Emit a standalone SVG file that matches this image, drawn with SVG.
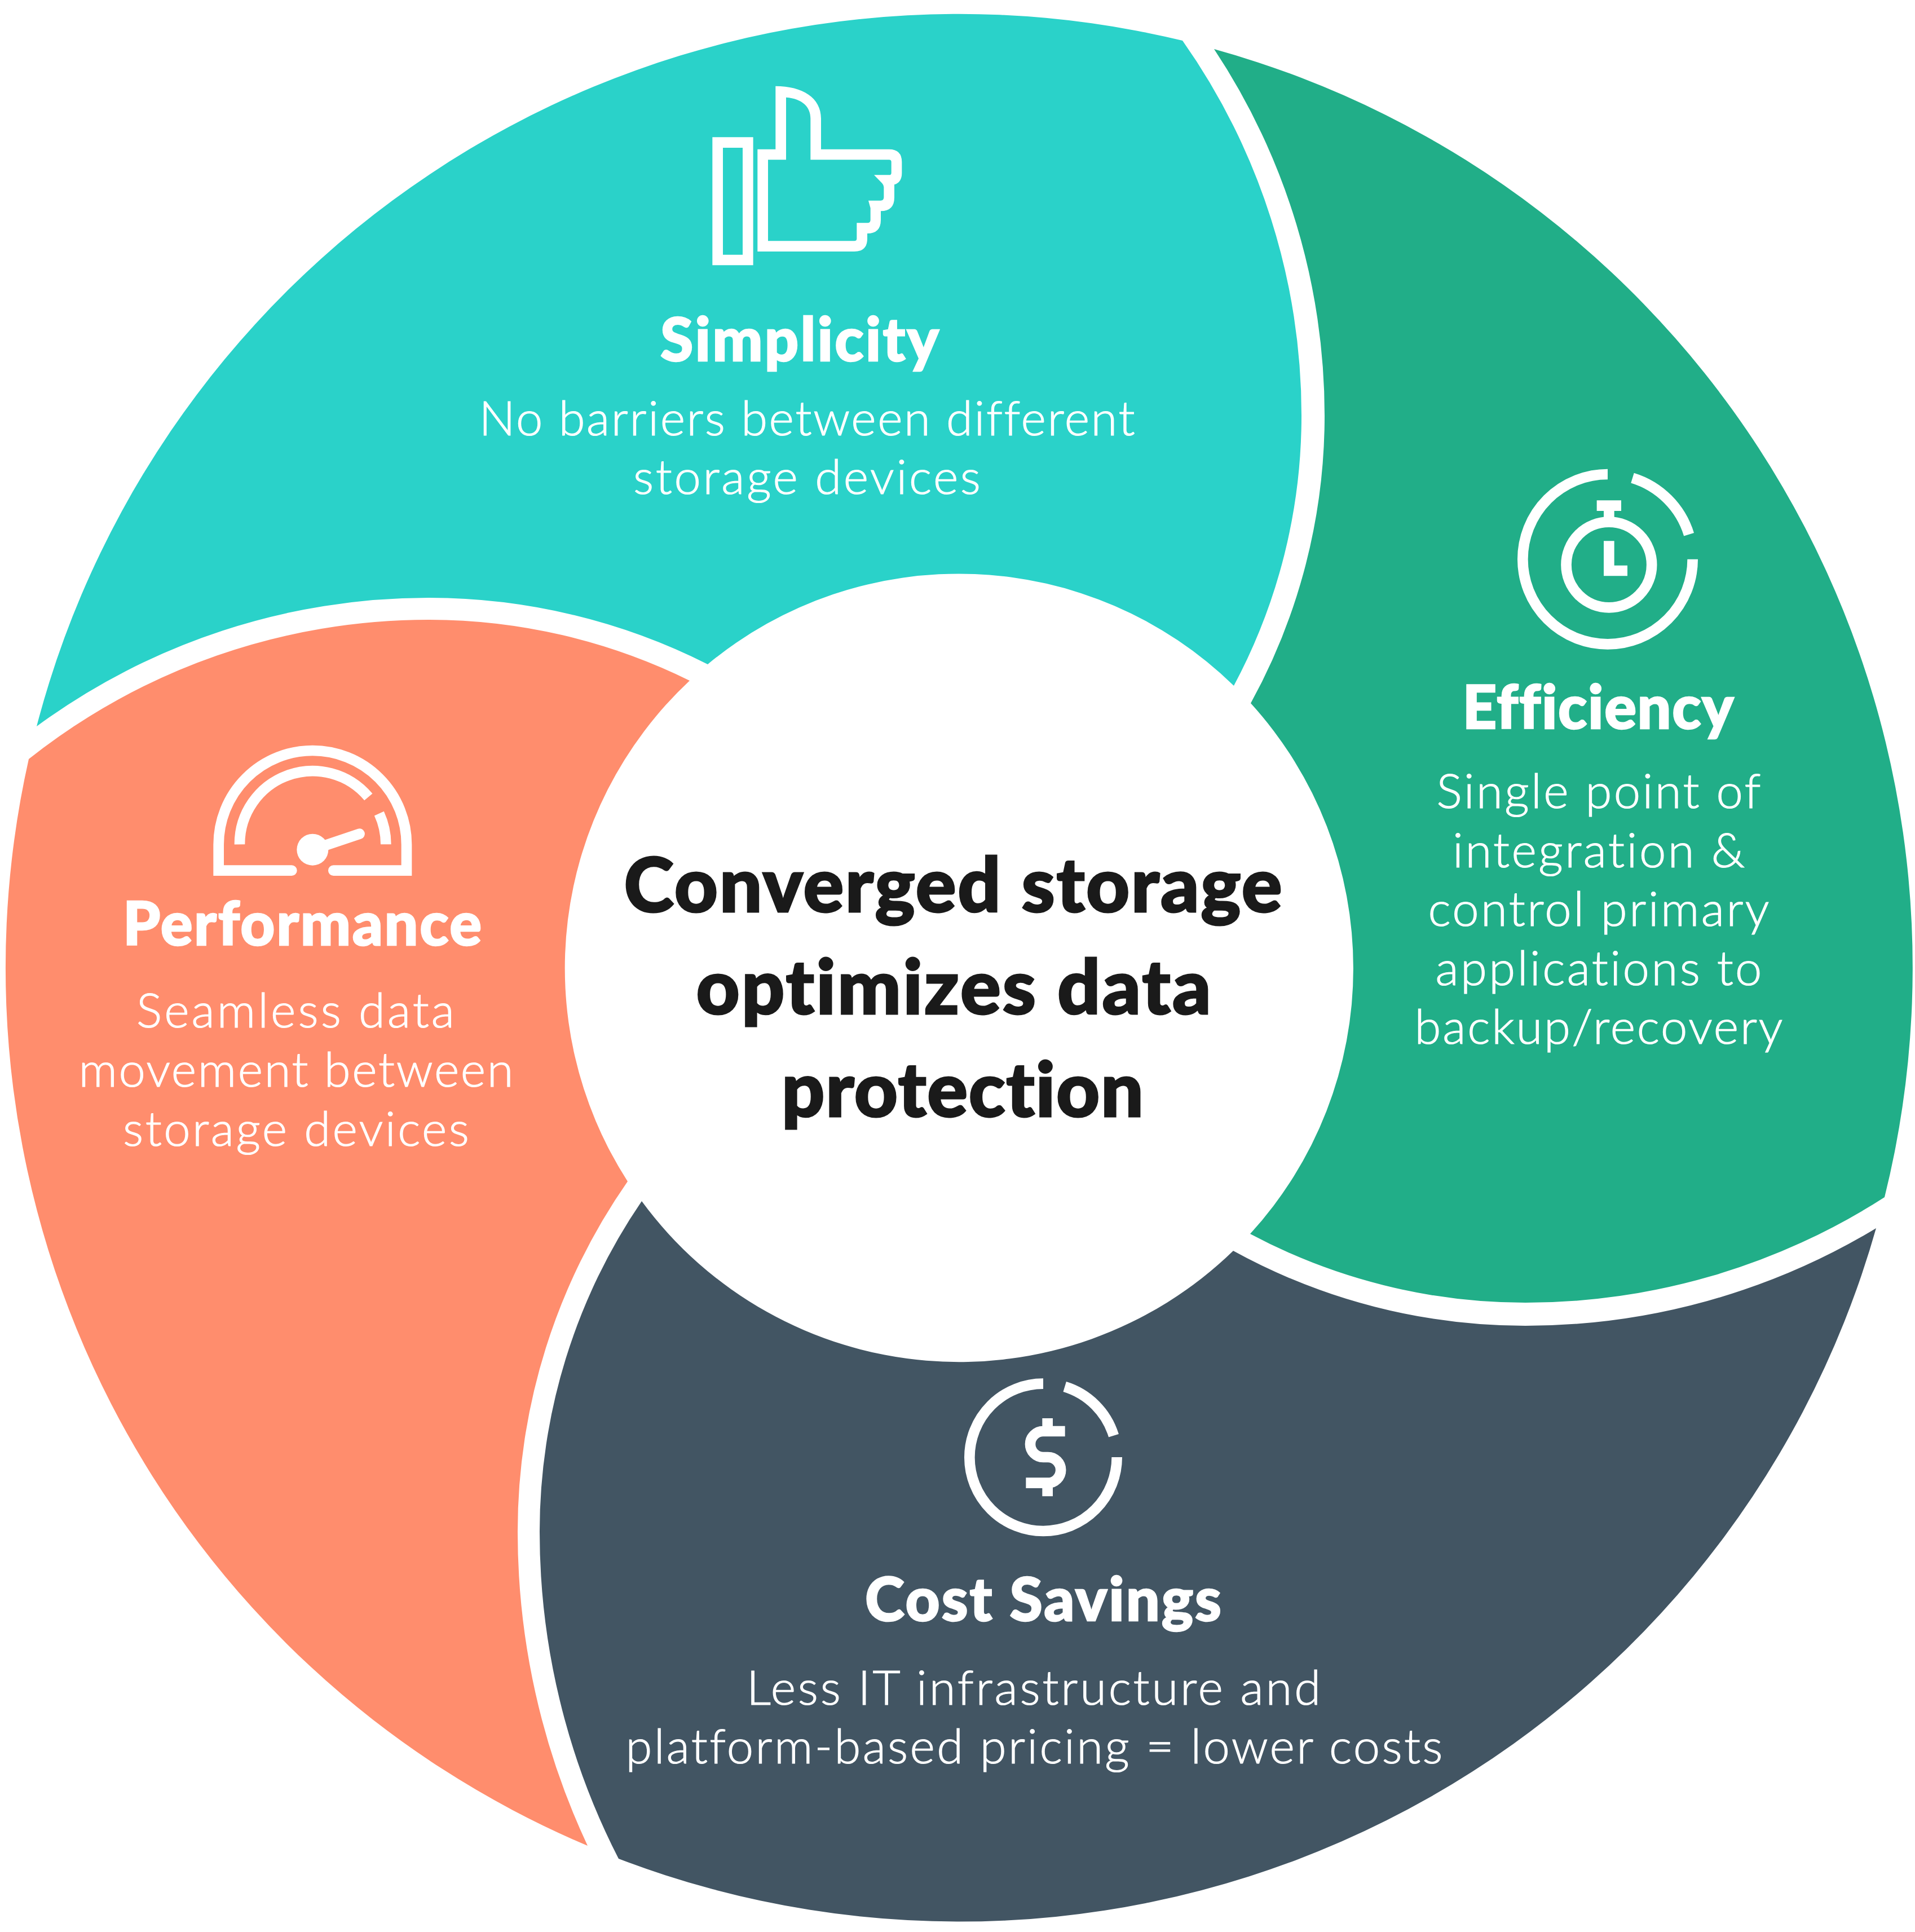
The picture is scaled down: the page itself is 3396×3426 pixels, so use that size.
<svg xmlns="http://www.w3.org/2000/svg" width="3396" height="3426" viewBox="0 0 3396 3426">
<style>
text{text-anchor:middle;fill:#fff;font-family:"Lato","Liberation Sans",sans-serif;font-variant-ligatures:none}
.h{font-weight:900;font-size:106px;stroke:#fff;stroke-width:2.5px}
.b{font-weight:300;font-size:85px;stroke:#fff;stroke-width:1.2px}
.c{font-weight:900;font-size:134px;fill:#1a1a1a;stroke:#1a1a1a;stroke-width:3px}
.s{fill:none;stroke:#fff;stroke-width:56}
.r{stroke-linecap:round}
.f{fill:#fff;fill-rule:evenodd}
</style>
<rect width="3396" height="3426" fill="#fff"/>
<g id="segment-simplicity">
<path fill="#2AD2C9" d="M65,1288A1690,1690 0 0 1 2097,72A1153,1153 0 0 1 2308,737A1016,1016 0 0 1 2188,1216A698,698 0 0 0 1255,1178A1097,1097 0 0 0 760,1060A1173,1173 0 0 0 65,1288Z"/>
<g transform="translate(1230,130) scale(.33333)">
<path class="f" d="M100,340H317V1021H100ZM156,396V965H261V396Z"/>
<path class="f" d="M340,948H855Q924,948 924,880V852Q996,852 996,780V733Q1068,733 1068,660V592Q1108,580 1108,530V472Q1108,404 1040,404H678V240C678,130 580,68 436,68V404H340ZM396,892V460H492V128C580,135 622,180 622,240V460H1040Q1052,460 1052,472V530Q1052,541 1040,541H960L1003,585Q1012,595 1012,605V660Q1012,677 995,677H930L941,717V780Q941,796 925,796H868V880Q868,892 855,892Z"/>
</g>
<text class="h" x="1418" y="640" textLength="494">Simplicity</text>
<text class="b" x="1431" y="772" textLength="1163">No barriers between different</text>
<text class="b" x="1431" y="876" textLength="616">storage devices</text>
</g>
<g id="segment-efficiency">
<path fill="#21AE88" d="M2153,87A1690,1690 0 0 1 3342,2123A1178,1178 0 0 1 2705,2310A1037,1037 0 0 1 2217,2188A698,698 0 0 0 2218,1247A1058,1058 0 0 0 2349,737A1176,1176 0 0 0 2153,87Z"/>
<g transform="translate(2660,810) scale(.33333)">
<path class="s" d="M573,93A452,452 0 1 0 1025,545"/>
<path class="s" d="M705,112.7A452,452 0 0 1 1005.3,413"/>
<circle class="s" cx="580" cy="574.5" r="227.5"/>
<path class="f" d="M515,232H645V288H608V340H552V288H515Z"/>
<path class="s" d="M580,448V606H678"/>
</g>
<text class="h" x="2834" y="1292" textLength="481">Efficiency</text>
<text class="b" x="2835" y="1433" textLength="575">Single point of</text>
<text class="b" x="2835" y="1538" textLength="518">integration &amp;</text>
<text class="b" x="2835" y="1642" textLength="605">control primary</text>
<text class="b" x="2835" y="1747" textLength="579">applications to</text>
<text class="b" x="2835" y="1851" textLength="653">backup/recovery</text>
</g>
<g id="segment-cost-savings">
<path fill="#425563" d="M3327,2178A1690,1690 0 0 1 1097,3296A1271,1271 0 0 1 957,2716A1039,1039 0 0 1 1138,2130A698,698 0 0 0 2187,2218A1075,1075 0 0 0 2705,2351A1205,1205 0 0 0 3327,2178Z"/>
<g transform="translate(1690,2420) scale(.33333)">
<path class="s" d="M480,101A392,392 0 1 0 872,492"/>
<path class="s" d="M594.6,117A392,392 0 0 1 854.9,377.4"/>
<path class="s" d="M596,354H480A69,69 0 0 0 480,492H505A68.5,68.5 0 0 1 505,629H388M503,285V354M503,629V700"/>
</g>
<text class="h" x="1850" y="2874" textLength="632">Cost Savings</text>
<text class="b" x="1833" y="3023" textLength="1018">Less IT infrastructure and</text>
<text class="b" x="1834" y="3127" textLength="1449">platform-based pricing = lower costs</text>
</g>
<g id="segment-performance">
<path fill="#FF8D6D" d="M1042,3273A1690,1690 0 0 1 51,1346A1141,1141 0 0 1 760,1099A1046,1046 0 0 1 1223,1207A698,698 0 0 0 1113,2095A1086,1086 0 0 0 918,2716A1312,1312 0 0 0 1042,3273Z"/>
<g transform="translate(350,1300) scale(.33333)">
<path class="s r" d="M502,731H113V593A500,500 0 0 1 1113,593V731H724"/>
<path class="s" d="M225,592A388,388 0 0 1 910,340"/>
<path class="s" d="M1003,592A390,390 0 0 0 967,428"/>
<circle class="f" cx="613" cy="620" r="84"/>
<path class="s r" d="M613,620L863,536"/>
</g>
<text class="h" x="536" y="1676" textLength="636">Performance</text>
<text class="b" x="524" y="1822" textLength="564">Seamless data</text>
<text class="b" x="525" y="1927" textLength="771">movement between</text>
<text class="b" x="525" y="2032" textLength="614">storage devices</text>
</g>
<g id="center">
<text class="c" x="1690" y="1617" textLength="1167">Converged storage</text>
<text class="c" x="1691" y="1798" textLength="913">optimizes data</text>
<text class="c" x="1707" y="1980" textLength="642">protection</text>
</g>
</svg>
